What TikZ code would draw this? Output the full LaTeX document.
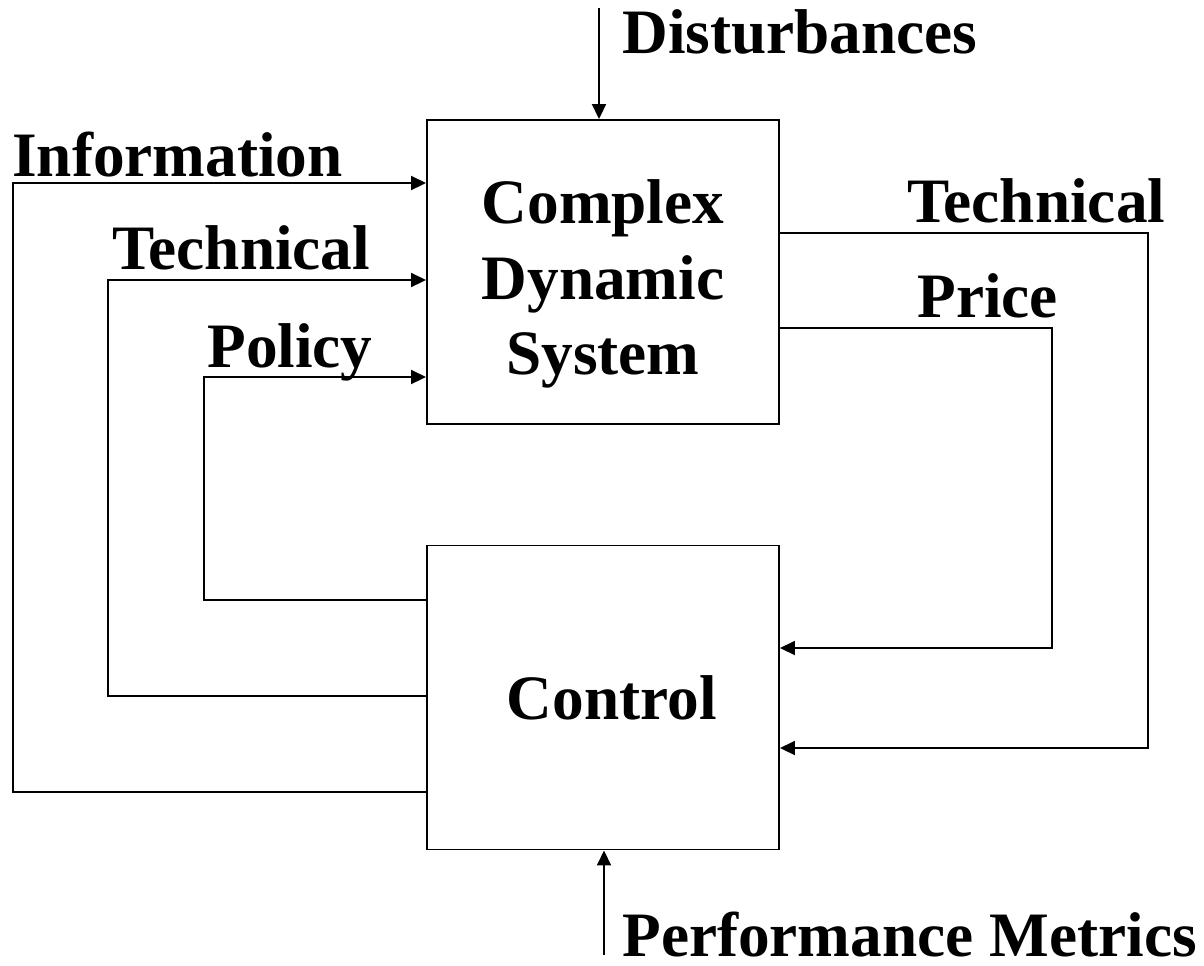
\documentclass[tikz,border=0pt]{standalone}
\usepackage{fontspec}
\setmainfont{Liberation Serif}
\usepackage{tikz}
\usetikzlibrary{arrows.meta}

\begin{document}
\begin{tikzpicture}[
  block/.style={draw, line width=1.1pt, minimum width=7.04cm, minimum height=6.08cm, align=center,
    font=\fontsize{36}{43}\selectfont\bfseries},
  label/.style={anchor=base west, inner sep=0pt, font=\fontsize{36}{43}\selectfont\bfseries},
  feed/.style={line width=1.1pt, -{Triangle[length=0.3cm, width=0.28cm]}}]
  \useasboundingbox (0cm,0cm) rectangle (24.08cm,-19.3cm);
  \node[block] (sys) at (12.06cm,-5.44cm) {};
  \node[align=center, font=\fontsize{36}{43}\selectfont\bfseries] (systxt) at ([yshift=-0.24cm]sys.center) {Complex\\Dynamic\\System};
  \node[block] (ctrl) at (12.06cm,-13.95cm) {\hspace*{0.35cm}Control};
  \coordinate (dist) at (11.98cm,-0.16cm);
  \coordinate (perf) at (12.08cm,-19.1cm);
  \node[label] (distlbl) at (12.44cm,-1.06cm) {Disturbances};
  \node[label] (perflbl) at (12.44cm,-19.12cm) {Performance Metrics};
  \node[label] (infolbl) at (0.24cm,-3.52cm) {Information};
  \node[label] (techllbl) at (2.24cm,-5.38cm) {Technical};
  \node[label] (polilbl) at (4.14cm,-7.34cm) {Policy};
  \node[label] (techrlbl) at (18.14cm,-4.44cm) {Technical};
  \node[label] (pricelbl) at (18.34cm,-6.34cm) {Price};
  \draw[feed] (dist) -- (sys.north -| dist);
  \draw[feed] (perf) -- (ctrl.south -| perf);
  \draw[feed] (ctrl.west |- 0,-15.84) -| (0.26cm,-3.66cm) -- (sys.west |- 0,-3.66);
  \draw[feed] (ctrl.west |- 0,-13.92) -| (2.16cm,-5.6cm) -- (sys.west |- 0,-5.6);
  \draw[feed] (ctrl.west |- 0,-12.0) -| (4.08cm,-7.54cm) -- (sys.west |- 0,-7.54);
  \draw[feed] (sys.east |- 0,-4.66) -| (22.96cm,-14.96cm) -- (ctrl.east |- 0,-14.96);
  \draw[feed] (sys.east |- 0,-6.56) -| (21.04cm,-12.96cm) -- (ctrl.east |- 0,-12.96);
\end{tikzpicture}
\end{document}
